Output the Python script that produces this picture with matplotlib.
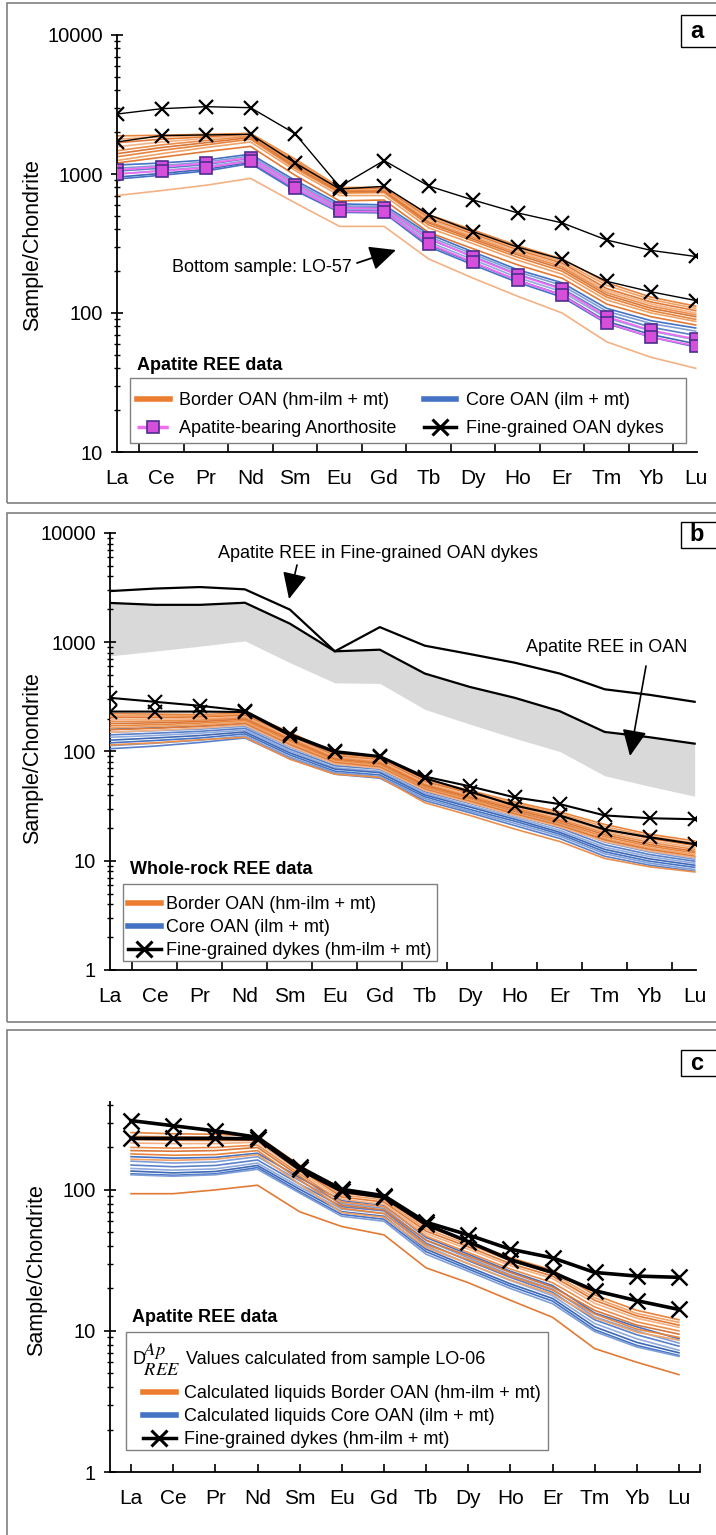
import matplotlib
matplotlib.use("Agg")
import matplotlib.pyplot as plt
from matplotlib.lines import Line2D
from matplotlib.patches import Rectangle
from matplotlib.ticker import LogLocator, FixedLocator, FuncFormatter, NullFormatter

plt.rcParams['font.family'] = ['Liberation Sans', 'DejaVu Sans']
plt.rcParams['mathtext.fontset'] = 'stix'

# ---------------------------------------------------------------- data
elements = ['La', 'Ce', 'Pr', 'Nd', 'Sm', 'Eu', 'Gd', 'Tb', 'Dy', 'Ho', 'Er', 'Tm', 'Yb', 'Lu']

# (a) apatite REE, chondrite normalised
apatite_border_oan = [
    [1880, 1900, 1930, 1960, 1280, 800, 800, 510, 395, 305, 245, 165, 130, 112],
    [1780, 1850, 1900, 1940, 1250, 790, 790, 495, 380, 295, 235, 158, 125, 108],
    [1680, 1780, 1850, 1920, 1220, 780, 785, 480, 370, 285, 228, 150, 120, 104],
    [1570, 1700, 1800, 1900, 1190, 770, 770, 470, 360, 278, 222, 145, 116, 100],
    [1470, 1620, 1740, 1870, 1160, 760, 760, 455, 350, 270, 215, 140, 112, 97],
    [1400, 1550, 1680, 1830, 1130, 745, 750, 445, 340, 262, 208, 135, 108, 94],
    [1330, 1480, 1620, 1780, 1100, 730, 735, 430, 330, 252, 200, 130, 104, 90],
    [1250, 1400, 1550, 1700, 1060, 700, 700, 410, 315, 240, 190, 124, 100, 87],
    [1200, 1320, 1450, 1580, 980, 640, 650, 380, 290, 222, 178, 116, 94, 82],
    [700, 760, 830, 930, 620, 420, 420, 245, 178, 132, 100, 62, 48, 40],  # LO-57
]
apatite_core_oan = [
    [1160, 1200, 1260, 1390, 900, 610, 600, 370, 275, 205, 165, 108, 88, 78],
    [1100, 1150, 1220, 1350, 870, 590, 585, 355, 265, 198, 158, 103, 84, 74],
    [1050, 1100, 1170, 1300, 840, 575, 570, 340, 255, 190, 150, 98, 79, 69],
    [1000, 1060, 1130, 1260, 810, 560, 555, 325, 242, 180, 142, 92, 74, 64],
    [950, 1010, 1080, 1220, 780, 545, 540, 310, 230, 172, 135, 87, 70, 60],
    [920, 980, 1050, 1190, 760, 530, 525, 300, 222, 166, 130, 84, 67, 57],
]
apatite_anorthosite = [
    [1070, 1130, 1190, 1310, 840, 570, 565, 345, 252, 188, 148, 94, 75, 65],
    [1000, 1050, 1110, 1240, 790, 540, 535, 315, 232, 172, 134, 85, 67, 58],
]
apatite_dykes = [
    [2700, 2950, 3050, 3000, 1950, 810, 1250, 820, 650, 525, 445, 335, 282, 255],
    [1700, 1890, 1910, 1930, 1200, 780, 815, 510, 385, 298, 243, 169, 142, 123],
]

# (b) apatite envelopes and whole-rock REE
env_dykes_max = [2940, 3100, 3200, 3050, 1990, 826, 1375, 930, 780, 650, 517, 371, 330, 285]
env_oan_max = [2290, 2200, 2200, 2300, 1480, 826, 855, 517, 390, 310, 234, 151, 135, 118]
env_oan_min = [750, 830, 920, 1030, 650, 425, 420, 243, 178, 132, 100, 60, 48, 39]

wr_border_oan = [
    [222, 220, 218, 225, 150, 96, 88, 56, 44, 34.5, 28, 21.5, 17.5, 15.2],
    [212, 212, 212, 220, 145, 93, 86, 54, 42.5, 33.5, 27, 20.5, 16.8, 14.5],
    [205, 205, 207, 214, 140, 91, 84, 53, 41.5, 32.5, 26, 19.5, 16, 13.8],
    [196, 198, 200, 208, 136, 89, 82, 51.5, 40, 31.5, 25, 18.7, 15.3, 13.2],
    [188, 190, 194, 203, 132, 87, 80, 50, 39, 30.5, 24, 18, 14.7, 12.7],
    [180, 183, 188, 198, 128, 85, 78, 49, 38, 29.5, 23.2, 17.3, 14.1, 12.2],
    [172, 176, 182, 192, 124, 83, 76, 47.5, 37, 28.5, 22.4, 16.6, 13.6, 11.8],
    [165, 170, 176, 187, 120, 81, 74, 46, 36, 27.5, 21.6, 16, 13.1, 11.4],
    [158, 163, 170, 181, 116, 79, 72, 45, 35, 26.8, 21, 15.5, 12.7, 11],
    [150, 156, 164, 175, 112, 77, 70, 44, 34, 26, 20.4, 15, 12.3, 10.7],
    [115, 120, 128, 135, 85, 62, 58, 34, 26, 19.5, 15, 10.5, 8.8, 7.9],
]
wr_core_oan = [
    [160, 165, 170, 178, 115, 80, 75, 47, 36.5, 28, 22, 15.5, 12.5, 10.7],
    [150, 155, 160, 170, 110, 77, 72, 45, 35, 27, 21, 14.8, 12, 10.3],
    [142, 147, 153, 163, 105, 74, 69, 43, 33.5, 26, 20, 14, 11.4, 9.9],
    [135, 140, 147, 157, 101, 71, 66, 41.5, 32, 25, 19, 13.3, 10.9, 9.5],
    [127, 133, 140, 151, 97, 69, 64, 40, 31, 24, 18.2, 12.7, 10.4, 9.1],
    [120, 126, 133, 145, 93, 66, 61, 38.5, 29.5, 23, 17.5, 12.1, 9.9, 8.7],
    [113, 119, 127, 139, 89, 64, 59, 37, 28.5, 22, 16.8, 11.6, 9.5, 8.3],
    [106, 112, 121, 133, 86, 62, 57, 35.5, 27.5, 21, 16, 11, 9.1, 8.0],
]
wr_dykes = [
    [310, 285, 262, 236, 145, 101, 91, 59, 48, 38, 33, 26, 24.5, 24],
    [232, 232, 232, 230, 140, 98, 89, 57, 43, 32, 26, 19.3, 16.4, 14.2],
]

# (c) liquids calculated from apatite with D(Ap/REE) of sample LO-06
liq_border_oan = [
    [255, 250, 248, 240, 150, 95, 88, 55, 43, 33, 27, 18, 14, 12],
    [240, 238, 236, 232, 145, 92, 85, 53, 41, 31.5, 25.5, 17.2, 13.3, 11.5],
    [228, 225, 224, 225, 140, 89, 82, 51, 39.5, 30, 24.5, 16.5, 12.8, 11.0],
    [215, 213, 213, 218, 135, 86, 79, 49, 38, 29, 23.5, 15.7, 12.3, 10.6],
    [200, 198, 200, 208, 130, 82, 76, 47, 36, 27.5, 22, 14.8, 11.6, 10.0],
    [190, 188, 190, 200, 125, 78, 72, 44, 34, 26, 20.5, 14, 11, 9.5],
    [180, 176, 178, 190, 118, 74, 68, 41, 32, 24.5, 19.5, 13.2, 10.3, 9.0],
    [165, 162, 165, 178, 110, 69, 64, 39, 30, 23, 18.3, 12.4, 9.8, 8.6],
    [94, 94, 100, 108, 70, 55, 48, 28, 22, 16.5, 12.5, 7.5, 6.0, 4.9],
]
liq_core_oan = [
    [172, 168, 170, 182, 122, 84, 78, 46, 35, 26.5, 21, 13.4, 10.7, 8.8],
    [160, 155, 158, 172, 116, 80, 74, 44, 33, 25, 19.8, 12.6, 10.0, 8.2],
    [150, 146, 149, 163, 110, 76, 71, 42, 31.5, 24, 18.8, 12.0, 9.4, 7.8],
    [142, 138, 141, 155, 105, 73, 68, 40, 30, 22.8, 17.8, 11.3, 8.8, 7.3],
    [136, 132, 135, 149, 101, 70, 65, 38, 28.5, 21.6, 17, 10.7, 8.3, 7.0],
    [130, 127, 130, 144, 97, 67, 62, 36.5, 27.5, 20.8, 16.3, 10.2, 7.9, 6.7],
    [128, 125, 128, 140, 95, 65, 60, 35, 26.5, 20, 15.6, 9.9, 7.7, 6.6],
]

# ---------------------------------------------------------------- styling
ORANGE = '#ED7D31'
BLUE = '#4472C4'
orange_shades = ['#E9843C', '#F0A267', '#E27A35', '#F4B183', '#EC8E4B', '#D9773A']
blue_shades = ['#4472C4', '#7E9ED8', '#5A80C9', '#8FAADC', '#3E68B5']
PINK = '#F06CF0'
GREY = '#D9D9D9'
FRAME = '#808080'
TXT = 13
LEG = 13

W, H = 716, 1535
fig = plt.figure(figsize=(W / 100, H / 100), dpi=100)


def fx(x):
    return x / W


def fy(y):
    return 1 - y / H


def axes_px(x0, y0, x1, y1):
    return fig.add_axes([fx(x0), fy(y1), (x1 - x0) / W, (y1 - y0) / H])


def frame_px(x0, y0, x1, y1, lw=1.2):
    fig.patches.append(Rectangle((fx(x0), fy(y1)), (x1 - x0) / W, (y1 - y0) / H,
                                 transform=fig.transFigure, fill=False,
                                 ec=FRAME, lw=lw, zorder=0))


def panel_tag(letter, y0, y1):
    fig.patches.append(Rectangle((fx(681), fy(y1)), (722 - 681) / W, (y1 - y0) / H,
                                 transform=fig.transFigure, fill=False,
                                 ec='black', lw=1.0))
    fig.text(fx(697), fy((y0 + y1) / 2), letter, fontsize=17, fontweight='bold',
             ha='center', va='center')


def style_axes(ax, ylim, xlim, centred_ticks):
    ax.set_yscale('log')
    ax.set_ylim(*ylim)
    ax.set_xlim(*xlim)
    ax.patch.set_alpha(0)
    for s in ('top', 'right'):
        ax.spines[s].set_visible(False)
    for s in ('left', 'bottom'):
        ax.spines[s].set_linewidth(1.3)
    ax.yaxis.set_major_locator(LogLocator(base=10, numticks=10))
    ax.yaxis.set_minor_locator(LogLocator(base=10, subs=range(2, 10), numticks=30))
    ax.yaxis.set_major_formatter(FuncFormatter(lambda v, p: f'{v:g}'))
    ax.yaxis.set_minor_formatter(NullFormatter())
    ax.tick_params(axis='y', which='major', direction='inout', length=8, width=1.2,
                   labelsize=14.5, pad=6)
    ax.tick_params(axis='y', which='minor', direction='inout', length=5, width=1)
    ax.set_xticks(list(range(len(elements))))
    ax.set_xticklabels(elements)
    if centred_ticks:
        ax.xaxis.set_minor_locator(FixedLocator([i + 0.5 for i in range(13)] + [13]))
        ax.tick_params(axis='x', which='major', length=0, labelsize=15, pad=12)
    else:
        ax.xaxis.set_minor_locator(FixedLocator([13.5]))
        ax.tick_params(axis='x', which='major', direction='in', length=6, width=1.2,
                       labelsize=15, pad=12)
    ax.tick_params(axis='x', which='minor', direction='in', length=6, width=1.2)


def arrow(ax, tail, tip, lw=1.2):
    ax.annotate('', xy=(fx(tip[0]), fy(tip[1])), xytext=(fx(tail[0]), fy(tail[1])),
                xycoords='figure fraction', textcoords='figure fraction',
                arrowprops=dict(arrowstyle='-|>,head_length=0.9,head_width=0.42',
                                color='black', lw=lw, mutation_scale=18,
                                shrinkA=0, shrinkB=0))


x = list(range(len(elements)))
dyke_handle = dict(color='black', lw=2.5, marker='x', ms=11, mew=2.2)

# ================================================================ panel a
frame_px(7, 3, 722, 503)
panel_tag('a', 15, 47)
ax_a = axes_px(117, 35, 697, 452)
style_axes(ax_a, (10, 10000), (0, 13.03), True)

for i, row in enumerate(apatite_border_oan):
    ax_a.plot(x, row, color=orange_shades[i % len(orange_shades)], lw=1.2, zorder=2)
for i, row in enumerate(apatite_core_oan):
    ax_a.plot(x, row, color=blue_shades[i % len(blue_shades)], lw=1.2, zorder=3)
for row in apatite_anorthosite:
    ax_a.plot(x, row, color=PINK, lw=1.3, marker='s', ms=8, mfc='#D64FDB',
              mec='#4B2F8F', mew=1.2, zorder=4)
for row in apatite_dykes:
    ax_a.plot(x, row, color='black', lw=1.0, marker='x', ms=10, mew=1.6, zorder=5)

fig.text(fx(33), fy(245), 'Sample/Chondrite', rotation=90, fontsize=15.5,
         ha='center', va='center')

fig.text(fx(172), fy(268), 'Bottom sample: LO-57', fontsize=TXT, ha='left', va='center')
arrow(ax_a, (357, 263), (396, 250), lw=1.3)

fig.text(fx(137), fy(365), 'Apatite REE data', fontsize=TXT, fontweight='bold',
         ha='left', va='center')
frame_px(130, 378, 686, 443, lw=1.0)
handles_a = [
    Line2D([], [], color=ORANGE, lw=4),
    Line2D([], [], color=PINK, lw=2.5, ls='--', marker='s', ms=8, mfc='#D64FDB',
           mec='#4B2F8F', mew=1.2),
    Line2D([], [], color=BLUE, lw=4),
    Line2D([], [], **dyke_handle),
]
labels_a = ['Border OAN (hm-ilm + mt)', 'Apatite-bearing Anorthosite',
            'Core OAN (ilm + mt)', 'Fine-grained OAN dykes']
fig.legend(handles_a, labels_a, ncol=2, loc='upper left',
           bbox_to_anchor=(fx(137), fy(392)), frameon=False, fontsize=LEG,
           handlelength=1.8, handletextpad=0.55, columnspacing=1.5,
           labelspacing=0.62, borderpad=0, borderaxespad=0, numpoints=1)

# ================================================================ panel b
frame_px(7, 513, 722, 1022)
panel_tag('b', 522, 548)
ax_b = axes_px(110, 533, 696, 970)
style_axes(ax_b, (1, 10000), (0, 13.03), True)

ax_b.fill_between(x, env_oan_min, env_oan_max, color=GREY, lw=0, zorder=1)
ax_b.plot(x, env_dykes_max, color='black', lw=1.6, zorder=2)
ax_b.plot(x, env_oan_max, color='black', lw=1.6, zorder=2)

for i, row in enumerate(wr_core_oan):
    ax_b.plot(x, row, color=blue_shades[i % len(blue_shades)], lw=1.2, zorder=3)
for i, row in enumerate(wr_border_oan):
    ax_b.plot(x, row, color=orange_shades[i % len(orange_shades)], lw=1.2, zorder=3)
for row in wr_dykes:
    ax_b.plot(x, row, color='black', lw=1.5, marker='x', ms=10, mew=1.5, zorder=5)

fig.text(fx(33), fy(758), 'Sample/Chondrite', rotation=90, fontsize=15.5,
         ha='center', va='center')

fig.text(fx(378), fy(553), 'Apatite REE in Fine-grained OAN dykes', fontsize=TXT,
         ha='center', va='center')
arrow(ax_b, (297, 565), (289, 599))
fig.text(fx(607), fy(647), 'Apatite REE in OAN', fontsize=TXT, ha='center', va='center')
arrow(ax_b, (646, 666), (630, 756))

fig.text(fx(130), fy(869), 'Whole-rock REE data', fontsize=TXT, fontweight='bold',
         ha='left', va='center')
frame_px(123, 884, 437, 961, lw=1.0)
handles_b = [
    Line2D([], [], color=ORANGE, lw=4),
    Line2D([], [], color=BLUE, lw=4),
    Line2D([], [], **dyke_handle),
]
labels_b = ['Border OAN (hm-ilm + mt)', 'Core OAN (ilm + mt)',
            'Fine-grained dykes (hm-ilm + mt)']
fig.legend(handles_b, labels_b, loc='upper left', bbox_to_anchor=(fx(128), fy(896)),
           frameon=False, fontsize=LEG, handlelength=1.8, handletextpad=0.3,
           labelspacing=0.33, borderpad=0, borderaxespad=0, numpoints=1)

# ================================================================ panel c
frame_px(7, 1030, 722, 1545)
panel_tag('c', 1050, 1076)
ax_c = axes_px(110, 1102, 700, 1472)
style_axes(ax_c, (1, 420), (-0.5, 13.5), False)

for i, row in enumerate(liq_core_oan):
    ax_c.plot(x, row, color=blue_shades[i % len(blue_shades)], lw=1.2, zorder=3)
for i, row in enumerate(liq_border_oan):
    ax_c.plot(x, row, color=orange_shades[i % len(orange_shades)], lw=1.2, zorder=3)
for row in wr_dykes:
    ax_c.plot(x, row, color='black', lw=2.6, marker='x', ms=11, mew=1.8, zorder=5)

fig.text(fx(37), fy(1270), 'Sample/Chondrite', rotation=90, fontsize=15.5,
         ha='center', va='center')

fig.text(fx(132), fy(1317), 'Apatite REE data', fontsize=TXT, fontweight='bold',
         ha='left', va='center')
frame_px(126, 1332, 548, 1450, lw=1.0)
fig.text(fx(132), fy(1359), 'D', fontsize=TXT, ha='left', va='center')
fig.text(fx(143), fy(1360), r'${}^{Ap}_{REE}$', fontsize=19, ha='left', va='center')
fig.text(fx(186), fy(1359), 'Values calculated from sample LO-06', fontsize=TXT,
         ha='left', va='center')
handles_c = [
    Line2D([], [], color=ORANGE, lw=4),
    Line2D([], [], color=BLUE, lw=4),
    Line2D([], [], **dyke_handle),
]
labels_c = ['Calculated liquids Border OAN (hm-ilm + mt)',
            'Calculated liquids Core OAN (ilm + mt)',
            'Fine-grained dykes (hm-ilm + mt)']
fig.legend(handles_c, labels_c, loc='upper left', bbox_to_anchor=(fx(143), fy(1385)),
           frameon=False, fontsize=LEG, handlelength=1.8, handletextpad=0.45,
           labelspacing=0.33, borderpad=0, borderaxespad=0, numpoints=1)

fig.savefig('out.png', dpi=100, facecolor='white')
